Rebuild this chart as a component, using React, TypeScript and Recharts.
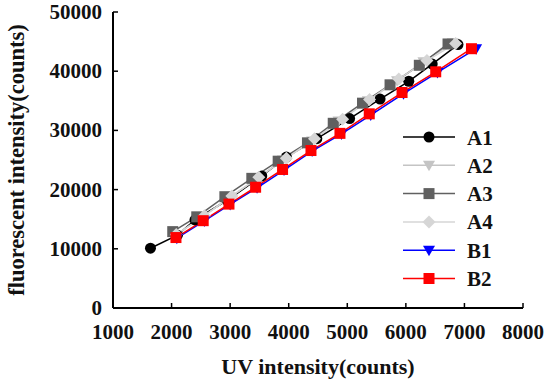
import React from 'react';
import { LineChart, Line, XAxis, YAxis, Legend, Label } from 'recharts';

const xTicks = [1000, 2000, 3000, 4000, 5000, 6000, 7000, 8000];
const yTicks = [0, 10000, 20000, 30000, 40000, 50000];

const a1X = [1640, 2100, 2400, 2950, 3540, 3960, 4480, 5040, 5560, 6050, 6450, 6890];
const a1Y = [10100, 12300, 14900, 18200, 22300, 25500, 28600, 32000, 35300, 38300, 41200, 44500];
const a2X = [2050, 2500, 2980, 3450, 3900, 4400, 4850, 5350, 5850, 6300, 6800];
const a2Y = [12200, 15200, 18600, 21800, 25000, 28200, 31600, 35000, 38400, 41600, 44800];
const a3X = [2020, 2430, 2910, 3370, 3820, 4320, 4760, 5260, 5730, 6230, 6720];
const a3Y = [12900, 15400, 18800, 21900, 24800, 27900, 31200, 34600, 37700, 41000, 44600];
const a4X = [2080, 2560, 3030, 3490, 3960, 4440, 4920, 5380, 5880, 6360, 6850];
const a4Y = [12400, 15600, 18900, 22100, 25300, 28600, 31900, 35200, 38700, 41800, 44700];
const b1X = [2090, 2560, 3000, 3460, 3920, 4400, 4900, 5400, 5960, 6540, 7200];
const b1Y = [11800, 14700, 17500, 20300, 23300, 26500, 29400, 32600, 36200, 39800, 43800];
const b2X = [2075, 2540, 2980, 3435, 3895, 4380, 4875, 5375, 5935, 6510, 7120];
const b2Y = [11900, 14750, 17550, 20400, 23400, 26600, 29500, 32800, 36400, 39900, 43800];

const toPoints = (xs: number[], ys: number[]) => xs.map((x, i) => ({ x, y: ys[i] }));

type Kind = 'circle' | 'triangle' | 'square' | 'diamond';

const series: { name: string; color: string; kind: Kind; data: { x: number; y: number }[] }[] = [
  { name: 'A1', color: '#000000', kind: 'circle', data: toPoints(a1X, a1Y) },
  { name: 'A2', color: '#c4c4c4', kind: 'triangle', data: toPoints(a2X, a2Y) },
  { name: 'A3', color: '#606060', kind: 'square', data: toPoints(a3X, a3Y) },
  { name: 'A4', color: '#d6d6d6', kind: 'diamond', data: toPoints(a4X, a4Y) },
  { name: 'B1', color: '#0000ff', kind: 'triangle', data: toPoints(b1X, b1Y) },
  { name: 'B2', color: '#ff0000', kind: 'square', data: toPoints(b2X, b2Y) },
];

const FONT = '"Liberation Serif", "Times New Roman", serif';

function Marker({ cx, cy, kind, color }: { cx: number; cy: number; kind: Kind; color: string }) {
  if (kind === 'circle') return <circle cx={cx} cy={cy} r={5.5} fill={color} />;
  if (kind === 'square') return <rect x={cx - 5.5} y={cy - 5.5} width={11} height={11} fill={color} />;
  if (kind === 'diamond')
    return <polygon points={`${cx},${cy - 6.5} ${cx + 6.5},${cy} ${cx},${cy + 6.5} ${cx - 6.5},${cy}`} fill={color} />;
  return <polygon points={`${cx - 6},${cy - 4.5} ${cx + 6},${cy - 4.5} ${cx},${cy + 6}`} fill={color} />;
}

const XTick = ({ x, y, payload }: any) => (
  <g>
    <line x1={x} x2={x} y1={y} y2={y - 5} stroke="#000" strokeWidth={1.5} />
    <text x={x} y={y + 31} textAnchor="middle" fontFamily={FONT} fontWeight="bold" fontSize={21} fill="#111">
      {payload.value}
    </text>
  </g>
);

const YTick = ({ x, y, payload }: any) => (
  <g>
    <line x1={x} x2={x + 5} y1={y} y2={y} stroke="#000" strokeWidth={1.5} />
    <text x={x - 11} y={y + 7} textAnchor="end" fontFamily={FONT} fontWeight="bold" fontSize={21} fill="#111">
      {payload.value}
    </text>
  </g>
);

const LegendBox = () => (
  <svg width={130} height={175}>
    {series.map((s, i) => {
      const cy = 12 + i * 28.3;
      return (
        <g key={s.name}>
          <line x1={3} x2={55} y1={cy} y2={cy} stroke={s.color} strokeWidth={1.5} />
          <Marker cx={29} cy={cy} kind={s.kind} color={s.color} />
          <text x={67} y={cy + 7.5} fontFamily={FONT} fontWeight="bold" fontSize={21} fill="#111">
            {s.name}
          </text>
        </g>
      );
    })}
  </svg>
);

export default function App() {
  return (
    <div style={{ position: 'absolute', left: 0, top: 0, background: '#fff' }}>
      <LineChart width={550} height={383} margin={{ top: 12, right: 27, bottom: 0, left: 0 }}>
        <XAxis
          dataKey="x"
          type="number"
          domain={[1000, 8000]}
          ticks={xTicks}
          allowDataOverflow
          height={75}
          tickSize={0}
          tickMargin={0}
          tick={<XTick />}
          axisLine={{ stroke: '#000', strokeWidth: 2 }}
        >
          <Label
            value="UV intensity(counts)"
            position="insideBottom"
            offset={9}
            style={{ fontFamily: FONT, fontWeight: 'bold', fontSize: 22, fill: '#111' }}
          />
        </XAxis>
        <YAxis
          type="number"
          domain={[0, 50000]}
          ticks={yTicks}
          width={113}
          tickSize={0}
          tickMargin={0}
          tick={<YTick />}
          axisLine={{ stroke: '#000', strokeWidth: 2 }}
          label={({ viewBox }: any) => {
            const cx = viewBox.x + 16;
            const cy = viewBox.y + viewBox.height / 2;
            return (
              <text
                x={cx}
                y={cy}
                transform={`rotate(-90 ${cx} ${cy})`}
                textAnchor="middle"
                dominantBaseline="central"
                fontFamily={FONT}
                fontWeight="bold"
                fontSize={22.5}
                fill="#111"
              >
                fluorescent intensity(counts)
              </text>
            );
          }}
        />
        <XAxis xAxisId="top" orientation="top" type="number" domain={[1000, 8000]} height={0} tick={false} tickLine={false} axisLine={{ stroke: '#000', strokeWidth: 2 }} />
        <YAxis yAxisId="right" orientation="right" type="number" domain={[0, 50000]} width={0} tick={false} tickLine={false} axisLine={{ stroke: '#000', strokeWidth: 2 }} />
        {series.map((s) => (
          <Line
            key={s.name}
            data={s.data}
            dataKey="y"
            name={s.name}
            type="linear"
            stroke={s.color}
            strokeWidth={1.5}
            isAnimationActive={false}
            dot={(p: any) => <Marker key={`${s.name}-${p.index}`} cx={p.cx} cy={p.cy} kind={s.kind} color={s.color} />}
            activeDot={false}
          />
        ))}
        <Legend
          layout="vertical"
          align="center"
          verticalAlign="middle"
          content={() => <LegendBox />}
          wrapperStyle={{ position: 'absolute', left: 400, top: 125, width: 130, height: 175 }}
        />
      </LineChart>
    </div>
  );
}
